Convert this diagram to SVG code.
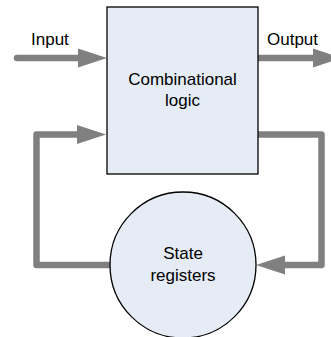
<svg xmlns="http://www.w3.org/2000/svg" width="331" height="337" viewBox="0 0 331 337">
  <style>
    .shape { fill: #e6ecf6; stroke: #000000; stroke-width: 1.3; }
    .wire { fill: none; stroke: #808080; stroke-width: 6.5; stroke-linejoin: round; stroke-linecap: round; }
    .label { font-family: "Liberation Sans", Arial, sans-serif; font-size: 17px; fill: #000000; }
    .mid { text-anchor: middle; }
  </style>
  <defs>
    <marker id="head" markerUnits="userSpaceOnUse" markerWidth="30" markerHeight="20" refX="0" refY="10" orient="auto" overflow="visible">
      <path d="M0,0.5 L29,10 L0,19.5 Z" fill="#808080"/>
    </marker>
  </defs>

  <g id="connectors">
    <path class="wire" d="M17,58 H78" marker-end="url(#head)"/>
    <path class="wire" d="M258,58 H313" marker-end="url(#head)"/>
    <path class="wire" d="M258,134.5 H321.5 V265 H285" marker-end="url(#head)"/>
    <path class="wire" d="M110,265 H36.5 V134.5 H77" marker-end="url(#head)"/>
  </g>

  <g id="combinational-logic">
    <rect class="shape" x="107" y="7" width="151" height="167"/>
    <text class="label mid" x="182.5" y="85">Combinational</text>
    <text class="label mid" x="182.5" y="106">logic</text>
  </g>

  <g id="state-registers">
    <circle class="shape" cx="183" cy="265" r="73"/>
    <text class="label mid" x="183" y="259">State</text>
    <text class="label mid" x="183" y="281">registers</text>
  </g>

  <g id="input-label">
    <text class="label" x="31" y="45">Input</text>
  </g>
  <g id="output-label">
    <text class="label" x="267" y="45">Output</text>
  </g>
</svg>
